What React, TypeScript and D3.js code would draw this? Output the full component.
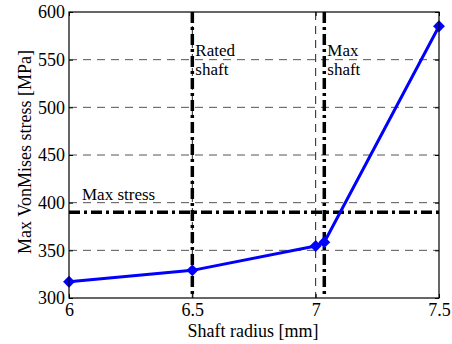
import { useEffect, useRef } from 'react';
import * as d3 from 'd3';

// shaft radius [mm] vs max Von Mises stress [MPa]
const radius = [6, 6.5, 7, 7.035, 7.5];
const stress = [317, 329, 354.5, 358.5, 585];
const xTicks = [6, 6.5, 7, 7.5];
const yTicks = [300, 350, 400, 450, 500, 550, 600];
const ratedShaft = 6.5;
const maxShaft = 7.035;
const maxStress = 390;

const FONT = "Liberation Serif, Times New Roman, serif";

export default function App() {
  const svgRef = useRef<SVGSVGElement>(null);

  useEffect(() => {
    const svg = d3.select(svgRef.current);
    svg.selectAll('*').remove();

    const left = 69, right = 439, top = 12, bottom = 298;

    const x = d3.scaleLinear().domain([6, 7.5]).range([left, right]);
    const y = d3.scaleLinear().domain([300, 600]).range([bottom, top]);

    svg.append('rect').attr('width', 452).attr('height', 344).attr('fill', '#fff');

    // grid lines
    const grid = svg.append('g');
    grid.selectAll('.gy')
      .data(yTicks.filter(d => d > 300 && d < 600))
      .enter().append('line')
      .attr('x1', left).attr('x2', right)
      .attr('y1', d => y(d)).attr('y2', d => y(d))
      .attr('stroke', '#555').attr('stroke-width', 1)
      .attr('stroke-dasharray', '8,6');
    grid.selectAll('.gx')
      .data(xTicks.filter(d => d > 6 && d < 7.5))
      .enter().append('line')
      .attr('x1', d => x(d)).attr('x2', d => x(d))
      .attr('y1', top).attr('y2', bottom)
      .attr('stroke', '#222').attr('stroke-width', 1)
      .attr('stroke-dasharray', '8,6');

    // reference lines
    const dashDot = '11,4,3,4';
    svg.append('line')
      .attr('x1', x(ratedShaft)).attr('x2', x(ratedShaft))
      .attr('y1', top).attr('y2', bottom)
      .attr('stroke', '#000').attr('stroke-width', 3.5)
      .attr('stroke-dasharray', dashDot);
    svg.append('line')
      .attr('x1', x(maxShaft)).attr('x2', x(maxShaft))
      .attr('y1', top).attr('y2', bottom)
      .attr('stroke', '#000').attr('stroke-width', 3.5)
      .attr('stroke-dasharray', dashDot);
    svg.append('line')
      .attr('x1', left).attr('x2', right)
      .attr('y1', y(maxStress)).attr('y2', y(maxStress))
      .attr('stroke', '#000').attr('stroke-width', 3.5)
      .attr('stroke-dasharray', dashDot);

    // annotations
    const note = (tx: number, ty: number, s: string) =>
      svg.append('text').attr('x', tx).attr('y', ty)
        .attr('font-family', FONT).attr('font-size', 17).text(s);
    note(x(ratedShaft) + 3, 56, 'Rated');
    note(x(ratedShaft) + 3, 75, 'shaft');
    note(x(maxShaft) + 3, 56, 'Max');
    note(x(maxShaft) + 3, 75, 'shaft');
    note(x(6) + 13, y(maxStress) - 12, 'Max stress');

    // data line
    const pts = radius.map((r, i) => [r, stress[i]] as [number, number]);
    svg.append('path')
      .datum(pts)
      .attr('fill', 'none')
      .attr('stroke', '#0000ff')
      .attr('stroke-width', 3)
      .attr('stroke-linejoin', 'round')
      .attr('d', d3.line<[number, number]>().x(d => x(d[0])).y(d => y(d[1])));

    svg.selectAll('.mk')
      .data(pts)
      .enter().append('path')
      .attr('transform', d => `translate(${x(d[0])},${y(d[1])}) rotate(45)`)
      .attr('d', 'M-4.2,-4.2H4.2V4.2H-4.2Z')
      .attr('fill', '#0000ff');

    // axes box
    svg.append('rect')
      .attr('x', left).attr('y', top)
      .attr('width', right - left).attr('height', bottom - top)
      .attr('fill', 'none').attr('stroke', '#000').attr('stroke-width', 1.2);

    const xAxis = svg.append('g')
      .attr('transform', `translate(0,${bottom})`)
      .call(d3.axisBottom(x).tickValues(xTicks).tickSizeInner(-4).tickSizeOuter(0).tickPadding(5).tickFormat(d3.format('')));
    xAxis.select('.domain').remove();
    const xTop = svg.append('g')
      .attr('transform', `translate(0,${top})`)
      .call(d3.axisTop(x).tickValues(xTicks).tickSizeInner(-4).tickSizeOuter(0).tickFormat(() => ''));
    xTop.select('.domain').remove();

    const yAxis = svg.append('g')
      .attr('transform', `translate(${left},0)`)
      .call(d3.axisLeft(y).tickValues(yTicks).tickSizeInner(-4).tickSizeOuter(0).tickPadding(4));
    yAxis.select('.domain').remove();
    const yRight = svg.append('g')
      .attr('transform', `translate(${right},0)`)
      .call(d3.axisRight(y).tickValues(yTicks).tickSizeInner(-4).tickSizeOuter(0).tickFormat(() => ''));
    yRight.select('.domain').remove();

    svg.selectAll('.tick text')
      .attr('font-family', FONT)
      .attr('font-size', 18)
      .attr('fill', '#000');
    svg.selectAll('.tick line').attr('stroke', '#000');

    svg.append('text')
      .attr('x', (left + right) / 2 - 1).attr('y', 337)
      .attr('text-anchor', 'middle')
      .attr('font-family', FONT).attr('font-size', 18)
      .text('Shaft radius [mm]');
    svg.append('text')
      .attr('transform', `translate(31,152) rotate(-90)`)
      .attr('text-anchor', 'middle')
      .attr('font-family', FONT).attr('font-size', 18)
      .text('Max VonMises stress [MPa]');
  }, []);

  return (
    <svg ref={svgRef} width={452} height={344}
      style={{ position: 'absolute', left: 0, top: 0 }} />
  );
}
